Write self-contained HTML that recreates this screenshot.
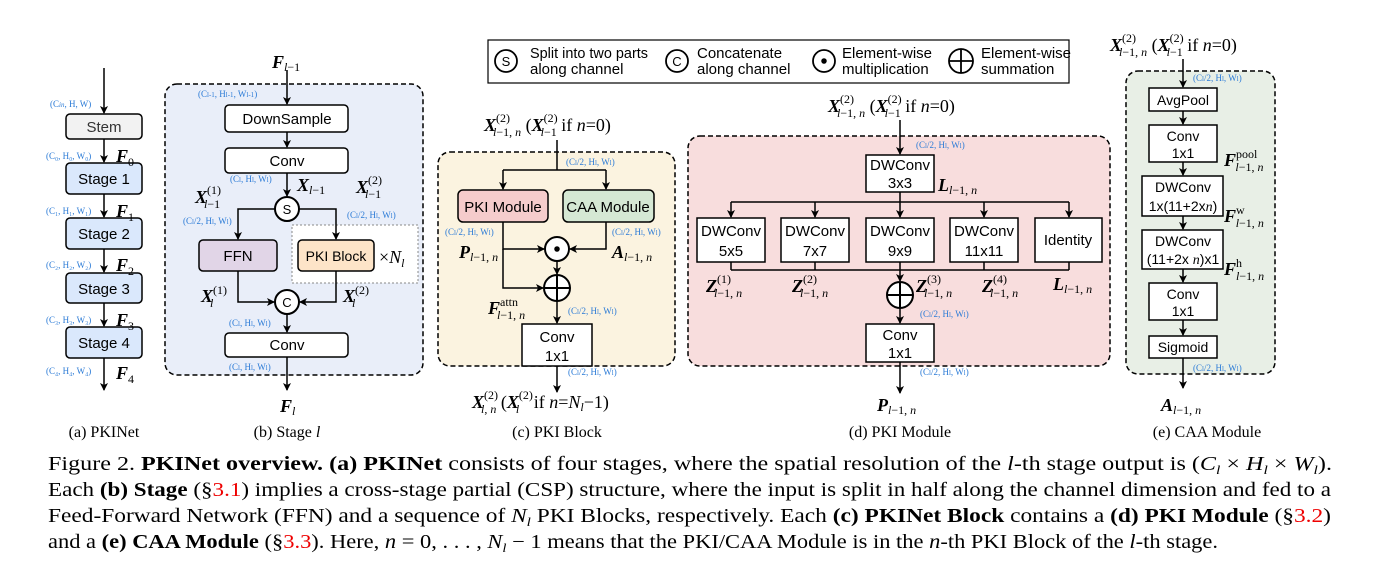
<!DOCTYPE html>
<html><head><meta charset="utf-8"><style>
html,body{margin:0;padding:0;background:#fff;}
svg{display:block;}
.bx{font-family:"Liberation Sans",sans-serif;font-size:15px;fill:#000;}
.bl{font-family:"Liberation Serif",serif;font-size:9px;fill:#2a7ad6;}
.m{font-family:"Liberation Serif",serif;font-size:18px;fill:#000;}
.cap{font-family:"Liberation Serif",serif;font-size:16px;fill:#000;}
.fig{font-family:"Liberation Serif",serif;font-size:20px;fill:#000;}
</style></head><body>
<svg width="1378" height="580" viewBox="0 0 1378 580" xmlns="http://www.w3.org/2000/svg">
<defs><marker id="a" markerWidth="8" markerHeight="8" refX="7" refY="4" orient="auto" markerUnits="userSpaceOnUse"><path d="M0,0 L8,4 L0,8 L2,4 z" fill="#000"/></marker></defs>
<g stroke="#000" stroke-width="1.5" fill="none">
<line x1="104" y1="68" x2="104" y2="113" marker-end="url(#a)"/>
<line x1="104" y1="139" x2="104" y2="162" marker-end="url(#a)"/>
<line x1="104" y1="194" x2="104" y2="217" marker-end="url(#a)"/>
<line x1="104" y1="249" x2="104" y2="272" marker-end="url(#a)"/>
<line x1="104" y1="303" x2="104" y2="326" marker-end="url(#a)"/>
<line x1="104" y1="358" x2="104" y2="390" marker-end="url(#a)"/>
<rect x="66" y="114" width="76" height="25" rx="4" fill="#f2f2f2"/>
<rect x="66" y="163" width="76" height="31" rx="4" fill="#dae8fc"/>
<rect x="66" y="218" width="76" height="31" rx="4" fill="#dae8fc"/>
<rect x="66" y="273" width="76" height="30" rx="4" fill="#dae8fc"/>
<rect x="66" y="327" width="76" height="31" rx="4" fill="#dae8fc"/>
<rect x="165" y="84" width="258" height="291" rx="12" fill="#e9eef9" stroke-dasharray="5,3"/>
<rect x="292" y="225" width="126" height="58" fill="#fff" stroke="#888" stroke-width="1" stroke-dasharray="2,2"/>
<line x1="287" y1="70" x2="287" y2="104" marker-end="url(#a)"/>
<line x1="287" y1="132" x2="287" y2="147" marker-end="url(#a)"/>
<line x1="287" y1="173" x2="287" y2="196" marker-end="url(#a)"/>
<polyline points="275,209 238,209 238,239" marker-end="url(#a)"/>
<polyline points="299,209 336,209 336,239" marker-end="url(#a)"/>
<polyline points="238,271 238,302 274,302" marker-end="url(#a)"/>
<polyline points="336,271 336,302 300,302" marker-end="url(#a)"/>
<line x1="287" y1="314" x2="287" y2="332" marker-end="url(#a)"/>
<line x1="287" y1="357" x2="287" y2="390" marker-end="url(#a)"/>
<rect x="225" y="105" width="123" height="27" rx="4" fill="#fff"/>
<rect x="225" y="148" width="123" height="25" rx="4" fill="#fff"/>
<rect x="199" y="240" width="78" height="31" rx="4" fill="#e1d5e7"/>
<rect x="298" y="240" width="76" height="31" rx="4" fill="#fde4c8"/>
<rect x="225" y="333" width="123" height="24" rx="4" fill="#fff"/>
<circle cx="287" cy="209" r="12" fill="#fff" stroke-width="2"/>
<circle cx="287" cy="302" r="12" fill="#fff" stroke-width="2"/>
<rect x="488" y="40" width="581" height="43" stroke-width="1.2"/>
<circle cx="506" cy="61" r="11" stroke-width="1.8"/>
<circle cx="677" cy="61" r="11" stroke-width="1.8"/>
<circle cx="824" cy="61" r="11" stroke-width="1.8"/>
<circle cx="824" cy="61" r="2" fill="#000"/>
<circle cx="961" cy="61" r="12" stroke-width="1.8"/>
<line x1="949" y1="61" x2="973" y2="61" stroke-width="1.8"/><line x1="961" y1="49" x2="961" y2="73" stroke-width="1.8"/>
<rect x="438" y="152" width="237" height="214" rx="12" fill="#fbf3e0" stroke-dasharray="5,3"/>
<line x1="557" y1="140" x2="557" y2="170"/>
<polyline points="503,170 606,170" />
<line x1="503" y1="170" x2="503" y2="189" marker-end="url(#a)"/>
<line x1="606" y1="170" x2="606" y2="189" marker-end="url(#a)"/>
<polyline points="503,222 503,249 544,249" marker-end="url(#a)"/>
<polyline points="503,249 503,288 543,288" marker-end="url(#a)"/>
<polyline points="606,222 606,249 570,249" marker-end="url(#a)"/>
<line x1="557" y1="261" x2="557" y2="274" marker-end="url(#a)"/>
<line x1="557" y1="301" x2="557" y2="323" marker-end="url(#a)"/>
<line x1="557" y1="366" x2="557" y2="392" marker-end="url(#a)"/>
<rect x="458" y="190" width="90" height="32" rx="5" fill="#f5cccc"/>
<rect x="563" y="190" width="91" height="32" rx="5" fill="#d5e8d4"/>
<rect x="522" y="324" width="70" height="42" fill="#fff"/>
<circle cx="557" cy="249" r="12" fill="#fff" stroke-width="2"/>
<circle cx="557" cy="249" r="2" fill="#000"/>
<circle cx="557" cy="288" r="13" fill="#fff" stroke-width="2"/>
<line x1="544" y1="288" x2="570" y2="288" stroke-width="2"/><line x1="557" y1="275" x2="557" y2="301" stroke-width="2"/>
<rect x="688" y="136" width="422" height="230" rx="12" fill="#f8dddd" stroke-dasharray="5,3"/>
<line x1="900" y1="120" x2="900" y2="154" marker-end="url(#a)"/>
<line x1="900" y1="192" x2="900" y2="217" marker-end="url(#a)"/>
<line x1="731" y1="202" x2="1069" y2="202"/>
<line x1="731" y1="202" x2="731" y2="217" marker-end="url(#a)"/>
<line x1="815" y1="202" x2="815" y2="217" marker-end="url(#a)"/>
<line x1="984" y1="202" x2="984" y2="217" marker-end="url(#a)"/>
<line x1="1069" y1="202" x2="1069" y2="217" marker-end="url(#a)"/>
<line x1="731" y1="270" x2="1069" y2="270"/>
<line x1="731" y1="262" x2="731" y2="270"/><line x1="815" y1="262" x2="815" y2="270"/><line x1="984" y1="262" x2="984" y2="270"/><line x1="1069" y1="262" x2="1069" y2="270"/>
<line x1="900" y1="262" x2="900" y2="281" marker-end="url(#a)"/>
<line x1="900" y1="308" x2="900" y2="323" marker-end="url(#a)"/>
<line x1="900" y1="362" x2="900" y2="393" marker-end="url(#a)"/>
<rect x="866" y="155" width="68" height="37" fill="#fff"/>
<rect x="697" y="218" width="68" height="44" fill="#fff"/>
<rect x="781" y="218" width="68" height="44" fill="#fff"/>
<rect x="866" y="218" width="68" height="44" fill="#fff"/>
<rect x="950" y="218" width="68" height="44" fill="#fff"/>
<rect x="1035" y="218" width="67" height="44" fill="#fff"/>
<rect x="866" y="324" width="68" height="38" fill="#fff"/>
<circle cx="900" cy="295" r="13" fill="#fff" stroke-width="2"/>
<line x1="887" y1="295" x2="913" y2="295" stroke-width="2"/><line x1="900" y1="282" x2="900" y2="308" stroke-width="2"/>
<rect x="1126" y="71" width="149" height="303" rx="12" fill="#e8efe6" stroke-dasharray="5,3"/>
<line x1="1183" y1="59" x2="1183" y2="87" marker-end="url(#a)"/>
<line x1="1183" y1="111" x2="1183" y2="124" marker-end="url(#a)"/>
<line x1="1183" y1="162" x2="1183" y2="175" marker-end="url(#a)"/>
<line x1="1183" y1="216" x2="1183" y2="229" marker-end="url(#a)"/>
<line x1="1183" y1="269" x2="1183" y2="282" marker-end="url(#a)"/>
<line x1="1183" y1="320" x2="1183" y2="335" marker-end="url(#a)"/>
<line x1="1183" y1="358" x2="1183" y2="388" marker-end="url(#a)"/>
<rect x="1149" y="88" width="68" height="23" fill="#fff"/>
<rect x="1149" y="125" width="68" height="37" fill="#fff"/>
<rect x="1142" y="176" width="81" height="40" fill="#fff"/>
<rect x="1142" y="230" width="81" height="39" fill="#fff"/>
<rect x="1149" y="283" width="68" height="37" fill="#fff"/>
<rect x="1149" y="336" width="68" height="22" fill="#fff"/>
</g>

<g class="bx" text-anchor="middle">
<text x="104" y="132" fill="#333">Stem</text>
<text x="104" y="184">Stage 1</text>
<text x="104" y="239">Stage 2</text>
<text x="104" y="294">Stage 3</text>
<text x="104" y="348">Stage 4</text>
<text x="287" y="124">DownSample</text>
<text x="287" y="166">Conv</text>
<text x="287" y="214" font-size="13">S</text>
<text x="287" y="307" font-size="13">C</text>
<text x="238" y="261">FFN</text>
<text x="336" y="261" font-size="14">PKI Block</text>
<text x="287" y="350">Conv</text>
<text x="503" y="212">PKI Module</text>
<text x="608" y="212">CAA Module</text>
<text x="557" y="342">Conv</text><text x="557" y="361">1x1</text>
<text x="900" y="170">DWConv</text><text x="900" y="188">3x3</text>
<text x="731" y="236">DWConv</text><text x="731" y="256">5x5</text>
<text x="815" y="236">DWConv</text><text x="815" y="256">7x7</text>
<text x="900" y="236">DWConv</text><text x="900" y="256">9x9</text>
<text x="984" y="236">DWConv</text><text x="984" y="256">11x11</text>
<text x="1068" y="245">Identity</text>
<text x="900" y="340">Conv</text><text x="900" y="358">1x1</text>
<text x="1183" y="105" font-size="14">AvgPool</text>
<text x="1183" y="141" font-size="14">Conv</text><text x="1183" y="158" font-size="14">1x1</text>
<text x="1183" y="192" font-size="14">DWConv</text><text x="1183" y="211" font-size="14">1x(11+2x<tspan font-style="italic" font-family="Liberation Serif">n</tspan>)</text>
<text x="1183" y="246" font-size="14">DWConv</text><text x="1183" y="264" font-size="14">(11+2x <tspan font-style="italic" font-family="Liberation Serif">n</tspan>)x1</text>
<text x="1183" y="299" font-size="14">Conv</text><text x="1183" y="316" font-size="14">1x1</text>
<text x="1183" y="352" font-size="14">Sigmoid</text>
</g>
<g class="bx" font-size="12">
<text x="506" y="66" text-anchor="middle" font-size="13">S</text>
<text x="677" y="66" text-anchor="middle" font-size="13">C</text>
<text x="530" y="58" textLength="118" lengthAdjust="spacingAndGlyphs">Split into two parts</text><text x="530" y="74">along channel</text>
<text x="697" y="58">Concatenate</text><text x="697" y="74">along channel</text>
<text x="842" y="58">Element-wise</text><text x="842" y="74">multiplication</text>
<text x="981" y="58">Element-wise</text><text x="981" y="74">summation</text>
</g>
<g class="bl">
<text x="50" y="107">(C<tspan font-size="7" font-style="italic">in</tspan>, H, W)</text>
<text x="46" y="159">(C₀, H₀, W₀)</text>
<text x="46" y="214">(C₁, H₁, W₁)</text>
<text x="46" y="268">(C₂, H₂, W₂)</text>
<text x="46" y="323">(C₃, H₃, W₃)</text>
<text x="46" y="374">(C₄, H₄, W₄)</text>
<text x="198" y="97">(C<tspan font-size="7">l-1</tspan>, H<tspan font-size="7">l-1</tspan>, W<tspan font-size="7">l-1</tspan>)</text>
<text x="230" y="182">(C<tspan font-size="7">l</tspan>, H<tspan font-size="7">l</tspan>, W<tspan font-size="7">l</tspan>)</text>
<text x="183" y="224">(C<tspan font-size="7">l</tspan>/2, H<tspan font-size="7">l</tspan>, W<tspan font-size="7">l</tspan>)</text>
<text x="347" y="218">(C<tspan font-size="7">l</tspan>/2, H<tspan font-size="7">l</tspan>, W<tspan font-size="7">l</tspan>)</text>
<text x="229" y="326">(C<tspan font-size="7">l</tspan>, H<tspan font-size="7">l</tspan>, W<tspan font-size="7">l</tspan>)</text>
<text x="229" y="370">(C<tspan font-size="7">l</tspan>, H<tspan font-size="7">l</tspan>, W<tspan font-size="7">l</tspan>)</text>
<text x="566" y="165">(C<tspan font-size="7">l</tspan>/2, H<tspan font-size="7">l</tspan>, W<tspan font-size="7">l</tspan>)</text>
<text x="445" y="235">(C<tspan font-size="7">l</tspan>/2, H<tspan font-size="7">l</tspan>, W<tspan font-size="7">l</tspan>)</text>
<text x="612" y="235">(C<tspan font-size="7">l</tspan>/2, H<tspan font-size="7">l</tspan>, W<tspan font-size="7">l</tspan>)</text>
<text x="568" y="314">(C<tspan font-size="7">l</tspan>/2, H<tspan font-size="7">l</tspan>, W<tspan font-size="7">l</tspan>)</text>
<text x="568" y="375">(C<tspan font-size="7">l</tspan>/2, H<tspan font-size="7">l</tspan>, W<tspan font-size="7">l</tspan>)</text>
<text x="916" y="148">(C<tspan font-size="7">l</tspan>/2, H<tspan font-size="7">l</tspan>, W<tspan font-size="7">l</tspan>)</text>
<text x="920" y="317">(C<tspan font-size="7">l</tspan>/2, H<tspan font-size="7">l</tspan>, W<tspan font-size="7">l</tspan>)</text>
<text x="920" y="375">(C<tspan font-size="7">l</tspan>/2, H<tspan font-size="7">l</tspan>, W<tspan font-size="7">l</tspan>)</text>
<text x="1193" y="81">(C<tspan font-size="7">l</tspan>/2, H<tspan font-size="7">l</tspan>, W<tspan font-size="7">l</tspan>)</text>
<text x="1193" y="371">(C<tspan font-size="7">l</tspan>/2, H<tspan font-size="7">l</tspan>, W<tspan font-size="7">l</tspan>)</text>
</g>
<g class="m">
<text x="116" y="162"><tspan font-weight="bold" font-style="italic">F</tspan><tspan font-size="12" dy="4">0</tspan></text>
<text x="116" y="217"><tspan font-weight="bold" font-style="italic">F</tspan><tspan font-size="12" dy="4">1</tspan></text>
<text x="116" y="271"><tspan font-weight="bold" font-style="italic">F</tspan><tspan font-size="12" dy="4">2</tspan></text>
<text x="116" y="326"><tspan font-weight="bold" font-style="italic">F</tspan><tspan font-size="12" dy="4">3</tspan></text>
<text x="116" y="379"><tspan font-weight="bold" font-style="italic">F</tspan><tspan font-size="12" dy="4">4</tspan></text>
<text x="272" y="68"><tspan font-weight="bold" font-style="italic">F</tspan><tspan font-size="12" dy="3" font-style="italic">l</tspan><tspan font-size="12">−1</tspan></text>
<text x="280" y="412"><tspan font-weight="bold" font-style="italic">F</tspan><tspan font-size="12" dy="3" font-style="italic">l</tspan></text>
<text x="297" y="191"><tspan font-weight="bold" font-style="italic">X</tspan><tspan font-size="12" dy="3" font-style="italic">l</tspan><tspan font-size="12">−1</tspan></text>
<text x="195" y="203"><tspan font-weight="bold" font-style="italic">X</tspan><tspan font-size="12" dy="-9">(1)</tspan><tspan font-size="12" dx="-17" dy="14" font-style="italic">l</tspan><tspan font-size="12">−1</tspan></text>
<text x="356" y="193"><tspan font-weight="bold" font-style="italic">X</tspan><tspan font-size="12" dy="-9">(2)</tspan><tspan font-size="12" dx="-17" dy="14" font-style="italic">l</tspan><tspan font-size="12">−1</tspan></text>
<text x="201" y="302"><tspan font-weight="bold" font-style="italic">X</tspan><tspan font-size="12" dy="-8">(1)</tspan><tspan font-size="12" dx="-17" dy="13" font-style="italic">l</tspan></text>
<text x="343" y="302"><tspan font-weight="bold" font-style="italic">X</tspan><tspan font-size="12" dy="-8">(2)</tspan><tspan font-size="12" dx="-17" dy="13" font-style="italic">l</tspan></text>
<text x="379" y="263" font-size="18">×<tspan font-style="italic">N</tspan><tspan font-size="12" dy="4" font-style="italic">l</tspan></text>
<text x="484" y="131"><tspan font-weight="bold" font-style="italic">X</tspan><tspan font-size="12" dy="-9">(2)</tspan><tspan font-size="12" dx="-17" dy="14" font-style="italic">l</tspan><tspan font-size="12">−1, </tspan><tspan font-size="12" font-style="italic">n</tspan><tspan dy="-5"> (</tspan><tspan font-weight="bold" font-style="italic">X</tspan><tspan font-size="12" dy="-9">(2)</tspan><tspan font-size="12" dx="-17" dy="14" font-style="italic">l</tspan><tspan font-size="12">−1</tspan><tspan dy="-5"> if </tspan><tspan font-style="italic">n</tspan>=0)</text>
<text x="459" y="258"><tspan font-weight="bold" font-style="italic">P</tspan><tspan font-size="12" dy="3" font-style="italic">l</tspan><tspan font-size="12">−1, </tspan><tspan font-size="12" font-style="italic">n</tspan></text>
<text x="612" y="258"><tspan font-weight="bold" font-style="italic">A</tspan><tspan font-size="12" dy="3" font-style="italic">l</tspan><tspan font-size="12">−1, </tspan><tspan font-size="12" font-style="italic">n</tspan></text>
<text x="488" y="314"><tspan font-weight="bold" font-style="italic">F</tspan><tspan font-size="12" dy="-8">attn</tspan><tspan font-size="12" dx="-21" dy="13" font-style="italic">l</tspan><tspan font-size="12">−1, </tspan><tspan font-size="12" font-style="italic">n</tspan></text>
<text x="472" y="408"><tspan font-weight="bold" font-style="italic">X</tspan><tspan font-size="12" dy="-9">(2)</tspan><tspan font-size="12" dx="-17" dy="14" font-style="italic">l</tspan><tspan font-size="12">, </tspan><tspan font-size="12" font-style="italic">n</tspan><tspan dy="-5"> (</tspan><tspan font-weight="bold" font-style="italic">X</tspan><tspan font-size="12" dy="-9">(2)</tspan><tspan font-size="12" dx="-17" dy="14" font-style="italic">l</tspan><tspan dy="-5" dx="10"> if </tspan><tspan font-style="italic">n</tspan>=<tspan font-style="italic">N</tspan><tspan font-size="12" dy="3" font-style="italic">l</tspan><tspan dy="-3">−1)</tspan></text>
<text x="828" y="112"><tspan font-weight="bold" font-style="italic">X</tspan><tspan font-size="12" dy="-9">(2)</tspan><tspan font-size="12" dx="-17" dy="14" font-style="italic">l</tspan><tspan font-size="12">−1, </tspan><tspan font-size="12" font-style="italic">n</tspan><tspan dy="-5"> (</tspan><tspan font-weight="bold" font-style="italic">X</tspan><tspan font-size="12" dy="-9">(2)</tspan><tspan font-size="12" dx="-17" dy="14" font-style="italic">l</tspan><tspan font-size="12">−1</tspan><tspan dy="-5"> if </tspan><tspan font-style="italic">n</tspan>=0)</text>
<text x="938" y="191"><tspan font-weight="bold" font-style="italic">L</tspan><tspan font-size="12" dy="3" font-style="italic">l</tspan><tspan font-size="12">−1, </tspan><tspan font-size="12" font-style="italic">n</tspan></text>
<text x="706" y="292"><tspan font-weight="bold" font-style="italic">Z</tspan><tspan font-size="12" dy="-9">(1)</tspan><tspan font-size="12" dx="-17" dy="14" font-style="italic">l</tspan><tspan font-size="12">−1, </tspan><tspan font-size="12" font-style="italic">n</tspan></text>
<text x="792" y="292"><tspan font-weight="bold" font-style="italic">Z</tspan><tspan font-size="12" dy="-9">(2)</tspan><tspan font-size="12" dx="-17" dy="14" font-style="italic">l</tspan><tspan font-size="12">−1, </tspan><tspan font-size="12" font-style="italic">n</tspan></text>
<text x="916" y="292"><tspan font-weight="bold" font-style="italic">Z</tspan><tspan font-size="12" dy="-9">(3)</tspan><tspan font-size="12" dx="-17" dy="14" font-style="italic">l</tspan><tspan font-size="12">−1, </tspan><tspan font-size="12" font-style="italic">n</tspan></text>
<text x="982" y="292"><tspan font-weight="bold" font-style="italic">Z</tspan><tspan font-size="12" dy="-9">(4)</tspan><tspan font-size="12" dx="-17" dy="14" font-style="italic">l</tspan><tspan font-size="12">−1, </tspan><tspan font-size="12" font-style="italic">n</tspan></text>
<text x="1053" y="290"><tspan font-weight="bold" font-style="italic">L</tspan><tspan font-size="12" dy="3" font-style="italic">l</tspan><tspan font-size="12">−1, </tspan><tspan font-size="12" font-style="italic">n</tspan></text>
<text x="877" y="411"><tspan font-weight="bold" font-style="italic">P</tspan><tspan font-size="12" dy="3" font-style="italic">l</tspan><tspan font-size="12">−1, </tspan><tspan font-size="12" font-style="italic">n</tspan></text>
<text x="1110" y="51"><tspan font-weight="bold" font-style="italic">X</tspan><tspan font-size="12" dy="-9">(2)</tspan><tspan font-size="12" dx="-17" dy="14" font-style="italic">l</tspan><tspan font-size="12">−1, </tspan><tspan font-size="12" font-style="italic">n</tspan><tspan dy="-5"> (</tspan><tspan font-weight="bold" font-style="italic">X</tspan><tspan font-size="12" dy="-9">(2)</tspan><tspan font-size="12" dx="-17" dy="14" font-style="italic">l</tspan><tspan font-size="12">−1</tspan><tspan dy="-5"> if </tspan><tspan font-style="italic">n</tspan>=0)</text>
<text x="1224" y="166"><tspan font-weight="bold" font-style="italic">F</tspan><tspan font-size="12" dy="-8">pool</tspan><tspan font-size="12" dx="-22" dy="13" font-style="italic">l</tspan><tspan font-size="12">−1, </tspan><tspan font-size="12" font-style="italic">n</tspan></text>
<text x="1224" y="222"><tspan font-weight="bold" font-style="italic">F</tspan><tspan font-size="12" dy="-8">w</tspan><tspan font-size="12" dx="-9" dy="13" font-style="italic">l</tspan><tspan font-size="12">−1, </tspan><tspan font-size="12" font-style="italic">n</tspan></text>
<text x="1224" y="275"><tspan font-weight="bold" font-style="italic">F</tspan><tspan font-size="12" dy="-8">h</tspan><tspan font-size="12" dx="-6" dy="13" font-style="italic">l</tspan><tspan font-size="12">−1, </tspan><tspan font-size="12" font-style="italic">n</tspan></text>
<text x="1161" y="411"><tspan font-weight="bold" font-style="italic">A</tspan><tspan font-size="12" dy="3" font-style="italic">l</tspan><tspan font-size="12">−1, </tspan><tspan font-size="12" font-style="italic">n</tspan></text>
</g>
<g class="cap" text-anchor="middle">
<text x="104" y="437">(a) PKINet</text>
<text x="287" y="437">(b) Stage <tspan font-style="italic">l</tspan></text>
<text x="557" y="437">(c) PKI Block</text>
<text x="900" y="437">(d) PKI Module</text>
<text x="1207" y="437">(e) CAA Module</text>
</g>
<g class="fig">
<text x="48" y="470" textLength="1284" lengthAdjust="spacingAndGlyphs">Figure 2. <tspan font-weight="bold">PKINet overview.</tspan> <tspan font-weight="bold">(a) PKINet</tspan> consists of four stages, where the spatial resolution of the <tspan font-style="italic">l</tspan>-th stage output is (<tspan font-style="italic">C</tspan><tspan font-size="13" font-style="italic" dy="4">l</tspan><tspan dy="-4"> × </tspan><tspan font-style="italic">H</tspan><tspan font-size="13" font-style="italic" dy="4">l</tspan><tspan dy="-4"> × </tspan><tspan font-style="italic">W</tspan><tspan font-size="13" font-style="italic" dy="4">l</tspan><tspan dy="-4">).</tspan></text>
<text x="48" y="496" textLength="1283" lengthAdjust="spacingAndGlyphs">Each <tspan font-weight="bold">(b) Stage</tspan> (§<tspan fill="#e00">3.1</tspan>) implies a cross-stage partial (CSP) structure, where the input is split in half along the channel dimension and fed to a</text>
<text x="48" y="522" textLength="1283" lengthAdjust="spacingAndGlyphs">Feed-Forward Network (FFN) and a sequence of <tspan font-style="italic">N</tspan><tspan font-size="13" font-style="italic" dy="4">l</tspan><tspan dy="-4"> PKI Blocks, respectively. Each </tspan><tspan font-weight="bold">(c) PKINet Block</tspan> contains a <tspan font-weight="bold">(d) PKI Module</tspan> (§<tspan fill="#e00">3.2</tspan>)</text>
<text x="48" y="548" textLength="1170" lengthAdjust="spacingAndGlyphs">and a <tspan font-weight="bold">(e) CAA Module</tspan> (§<tspan fill="#e00">3.3</tspan>). Here, <tspan font-style="italic">n</tspan> = 0, . . . , <tspan font-style="italic">N</tspan><tspan font-size="13" font-style="italic" dy="4">l</tspan><tspan dy="-4"> − 1 means that the PKI/CAA Module is in the </tspan><tspan font-style="italic">n</tspan>-th PKI Block of the <tspan font-style="italic">l</tspan>-th stage.</text>
</g>
</svg>
</body></html>
